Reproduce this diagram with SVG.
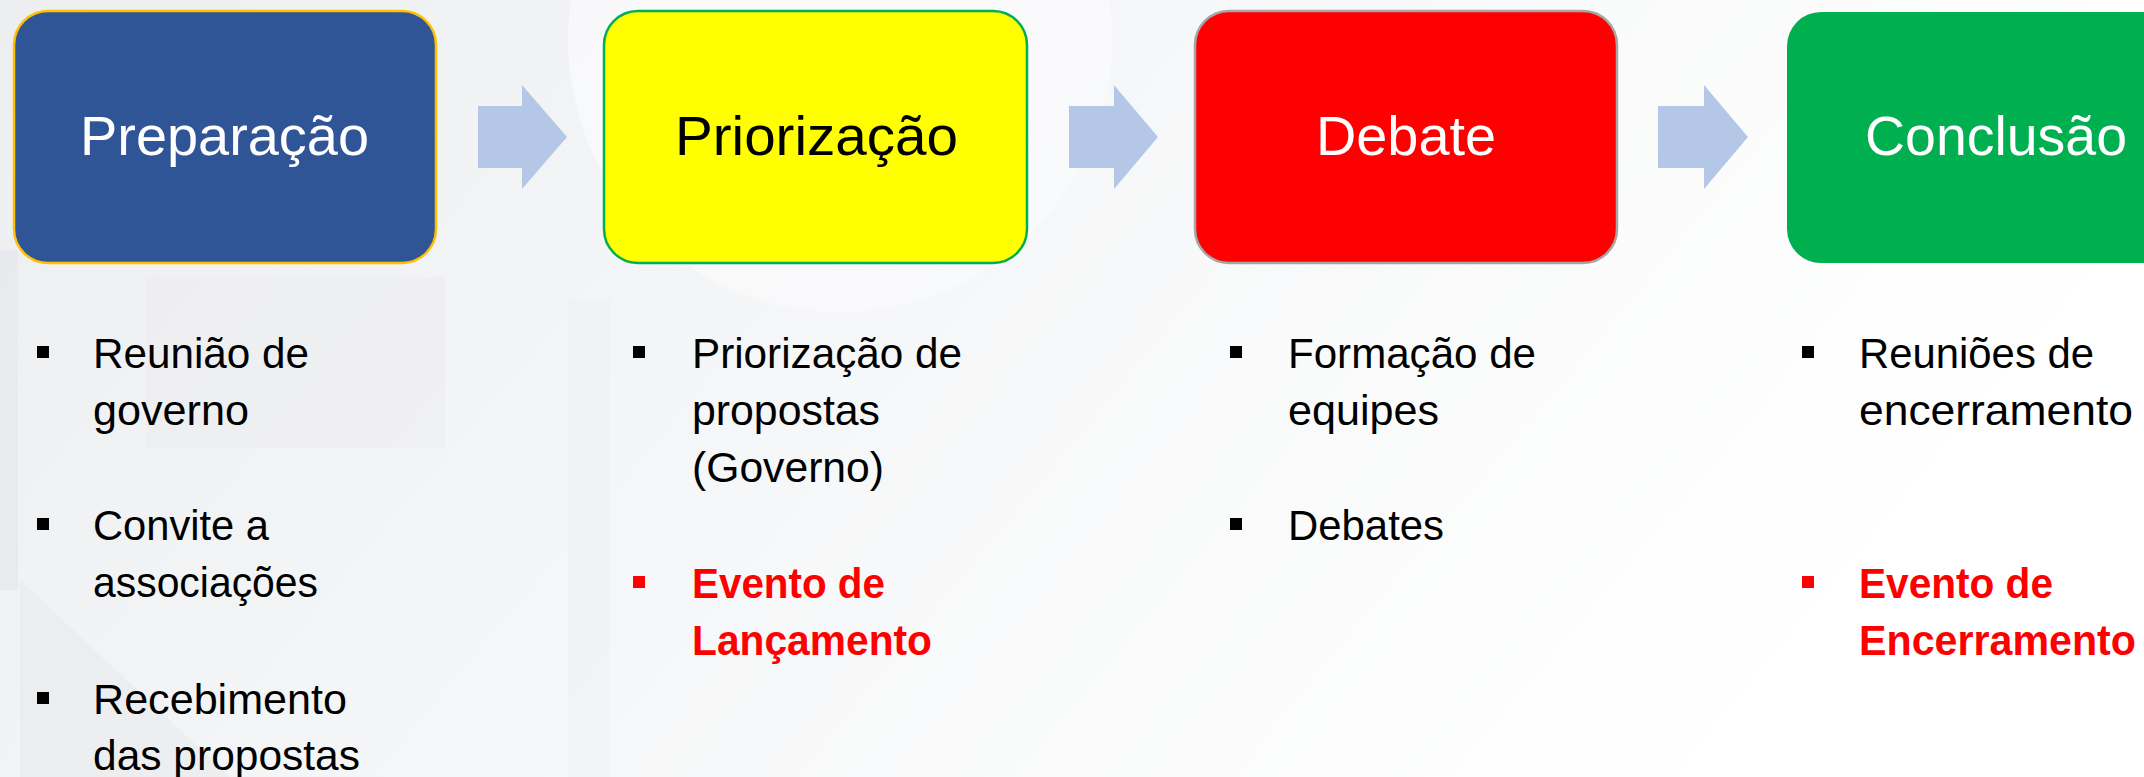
<svg xmlns="http://www.w3.org/2000/svg" width="2144" height="777" viewBox="0 0 2144 777">
  <defs>
    <linearGradient id="bg" x1="0" y1="0" x2="1" y2="0.3">
      <stop offset="0" stop-color="#EDEEF0"/>
      <stop offset="0.5" stop-color="#F6F7F8"/>
      <stop offset="1" stop-color="#FFFFFF"/>
    </linearGradient>
    <style>
      .title { font-family: "Liberation Sans", Arial, sans-serif; font-size: 56px; }
      .item { font-family: "Liberation Sans", Arial, sans-serif; font-size: 42px; fill: #000000; }
      .hot { font-family: "Liberation Sans", Arial, sans-serif; font-size: 42px; font-weight: bold; fill: #FF0000; }
      .arrow { fill: #B4C7E7; }
      .bul { fill: #000000; }
      .bulr { fill: #FF0000; }
    </style>
  </defs>

  <!-- background -->
  <g id="background">
    <rect x="0" y="0" width="2144" height="777" fill="url(#bg)"/>
    <rect x="146" y="277" width="299" height="171" fill="#ECEDEF" opacity="0.6"/>
    <rect x="0" y="250" width="18" height="340" fill="#E6E7E9" opacity="0.7"/>
    <polygon points="20,580 20,777 230,777" fill="#E8E9EB" opacity="0.6"/>
    <rect x="568" y="300" width="42" height="477" fill="#ECEDEF" opacity="0.4"/>
    <circle cx="840" cy="40" r="272" fill="#FBFBFC" opacity="0.7"/>
  </g>

  <!-- connectors -->
  <g id="connectors">
    <polygon class="arrow" points="478,106 522,106 522,85 567,137 522,189 522,168 478,168"/>
    <polygon class="arrow" points="1069,106 1114,106 1114,85 1158,137 1114,189 1114,168 1069,168"/>
    <polygon class="arrow" points="1658,106 1704,106 1704,85 1748,137 1704,189 1704,168 1658,168"/>
  </g>

  <!-- nodes -->
  <g id="node-preparacao">
    <rect x="14" y="11" width="422" height="252" rx="34" ry="34" fill="#2F5597" stroke="#FFC000" stroke-width="2.5"/>
    <text class="title" x="80" y="155" fill="#FFFFFF" textLength="289" lengthAdjust="spacingAndGlyphs">Preparação</text>
  </g>
  <g id="node-priorizacao">
    <rect x="604" y="11" width="423" height="252" rx="34" ry="34" fill="#FFFF00" stroke="#00B050" stroke-width="2.5"/>
    <text class="title" x="675" y="155" fill="#000000" textLength="283" lengthAdjust="spacingAndGlyphs">Priorização</text>
  </g>
  <g id="node-debate">
    <rect x="1195" y="11" width="422" height="252" rx="34" ry="34" fill="#FF0000" stroke="#A6A6A6" stroke-width="2.5"/>
    <text class="title" x="1316" y="155" fill="#FFFFFF" textLength="180" lengthAdjust="spacingAndGlyphs">Debate</text>
  </g>
  <g id="node-conclusao">
    <rect x="1787" y="12" width="422" height="251" rx="34" ry="34" fill="#00B050"/>
    <text class="title" x="1865" y="155" fill="#FFFFFF" textLength="262" lengthAdjust="spacingAndGlyphs">Conclusão</text>
  </g>

  <!-- bullet lists -->
  <g id="list-preparacao">
    <rect class="bul" x="37" y="346" width="12" height="12"/>
    <text class="item" x="93" y="368" textLength="216" lengthAdjust="spacingAndGlyphs">Reunião de</text>
    <text class="item" x="93" y="425" textLength="156" lengthAdjust="spacingAndGlyphs">governo</text>
    <rect class="bul" x="37" y="518" width="12" height="12"/>
    <text class="item" x="93" y="540" textLength="176" lengthAdjust="spacingAndGlyphs">Convite a</text>
    <text class="item" x="93" y="597" textLength="225" lengthAdjust="spacingAndGlyphs">associações</text>
    <rect class="bul" x="37" y="692" width="12" height="12"/>
    <text class="item" x="93" y="714" textLength="254" lengthAdjust="spacingAndGlyphs">Recebimento</text>
    <text class="item" x="93" y="770" textLength="267" lengthAdjust="spacingAndGlyphs">das propostas</text>
  </g>
  <g id="list-priorizacao">
    <rect class="bul" x="633" y="346" width="12" height="12"/>
    <text class="item" x="692" y="368" textLength="270" lengthAdjust="spacingAndGlyphs">Priorização de</text>
    <text class="item" x="692" y="425" textLength="188" lengthAdjust="spacingAndGlyphs">propostas</text>
    <text class="item" x="692" y="482" textLength="192" lengthAdjust="spacingAndGlyphs">(Governo)</text>
    <rect class="bulr" x="633" y="576" width="12" height="12"/>
    <text class="hot" x="692" y="598" textLength="193" lengthAdjust="spacingAndGlyphs">Evento de</text>
    <text class="hot" x="692" y="655" textLength="240" lengthAdjust="spacingAndGlyphs">Lançamento</text>
  </g>
  <g id="list-debate">
    <rect class="bul" x="1230" y="346" width="12" height="12"/>
    <text class="item" x="1288" y="368" textLength="248" lengthAdjust="spacingAndGlyphs">Formação de</text>
    <text class="item" x="1288" y="425" textLength="151" lengthAdjust="spacingAndGlyphs">equipes</text>
    <rect class="bul" x="1230" y="518" width="12" height="12"/>
    <text class="item" x="1288" y="540" textLength="156" lengthAdjust="spacingAndGlyphs">Debates</text>
  </g>
  <g id="list-conclusao">
    <rect class="bul" x="1802" y="346" width="12" height="12"/>
    <text class="item" x="1859" y="368" textLength="235" lengthAdjust="spacingAndGlyphs">Reuniões de</text>
    <text class="item" x="1859" y="425" textLength="274" lengthAdjust="spacingAndGlyphs">encerramento</text>
    <rect class="bulr" x="1802" y="576" width="12" height="12"/>
    <text class="hot" x="1859" y="598" textLength="194" lengthAdjust="spacingAndGlyphs">Evento de</text>
    <text class="hot" x="1859" y="655" textLength="277" lengthAdjust="spacingAndGlyphs">Encerramento</text>
  </g>
</svg>
